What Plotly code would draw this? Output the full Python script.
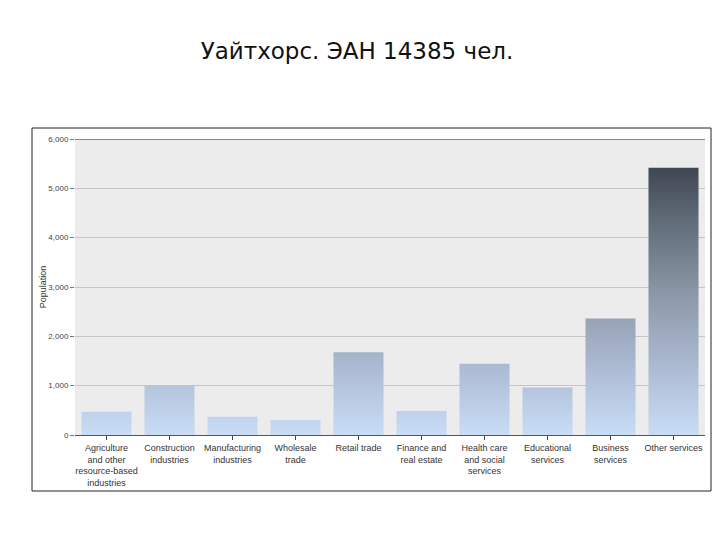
import plotly.graph_objects as go

categories = [
    "Agriculture<br>and other<br>resource-based<br>industries",
    "Construction<br>industries",
    "Manufacturing<br>industries",
    "Wholesale<br>trade",
    "Retail trade",
    "Finance and<br>real estate",
    "Health care<br>and social<br>services",
    "Educational<br>services",
    "Business<br>services",
    "Other services",
]
population = [472, 995, 372, 305, 1675, 488, 1445, 962, 2362, 5415]
y_ticks = [0, 1000, 2000, 3000, 4000, 5000, 6000]
y_tick_labels = ["0", "1,000", "2,000", "3,000", "4,000", "5,000", "6,000"]
title_text = "Уайтхорс. ЭАН 14385 чел."
y_title = "Population"

half = 0.397
xs, ys = [], []
for i, v in enumerate(population):
    xs += [i - half, i + half, i + half, i - half, i - half, None]
    ys += [0, 0, v, v, 0, None]

fig = go.Figure()
fig.add_trace(go.Scatter(
    x=xs, y=ys, mode="lines", fill="toself",
    line=dict(width=0, color="rgba(0,0,0,0)"),
    fillgradient=dict(
        type="vertical", start=0, stop=5500,
        colorscale=[
            [0.0, "#c9ddf7"],
            [0.3, "#a6b4cb"],
            [0.5, "#8f9aaa"],
            [0.8, "#5f6a77"],
            [1.0, "#3c444e"],
        ],
    ),
    hoverinfo="skip", showlegend=False,
))

fig.update_layout(
    width=720, height=540,
    paper_bgcolor="white",
    plot_bgcolor="#ececec",
    margin=dict(l=67, r=23, t=131, b=113, autoexpand=False),
    title=dict(text=title_text, x=349 / 720, xref="container", xanchor="center",
               y=1 - 43 / 540, yref="container", yanchor="middle",
               font=dict(family="DejaVu Sans", size=23, color="#111")),
    showlegend=False,
    font=dict(family="Liberation Sans, Arial", color="#333"),
)
fig.update_xaxes(
    range=[-0.5, len(categories) - 0.5],
    tickvals=list(range(len(categories))), ticktext=categories,
    tickangle=0, ticks="outside", ticklen=4, tickcolor="#444",
    tickfont=dict(size=9, color="#333"),
    showgrid=False, zeroline=False, automargin=False,
    showline=True, linecolor="#555", linewidth=1,
)
fig.update_yaxes(
    range=[0, 6000], tickvals=y_ticks, ticktext=y_tick_labels,
    ticks="outside", ticklen=4, tickcolor="#777",
    tickfont=dict(size=8, color="#444"),
    showgrid=True, gridcolor="#c6c6c6", gridwidth=1,
    zeroline=False, showline=False, automargin=False,
    title=dict(text=y_title, font=dict(size=9, color="#333"), standoff=0),
)
# top line at the axis max
fig.add_shape(type="line", xref="paper", yref="y", x0=0, x1=1, y0=6000, y1=6000,
              line=dict(color="#222", width=1))
# outer frame around the chart
fig.add_shape(type="rect", xref="paper", yref="paper",
              x0=(32 - 75) / 630, x1=(711 - 75) / 630,
              y0=(435 - 491) / 296, y1=(435 - 128) / 296,
              line=dict(color="#222", width=1), fillcolor="rgba(0,0,0,0)", layer="below")

fig.write_html("out.html")
